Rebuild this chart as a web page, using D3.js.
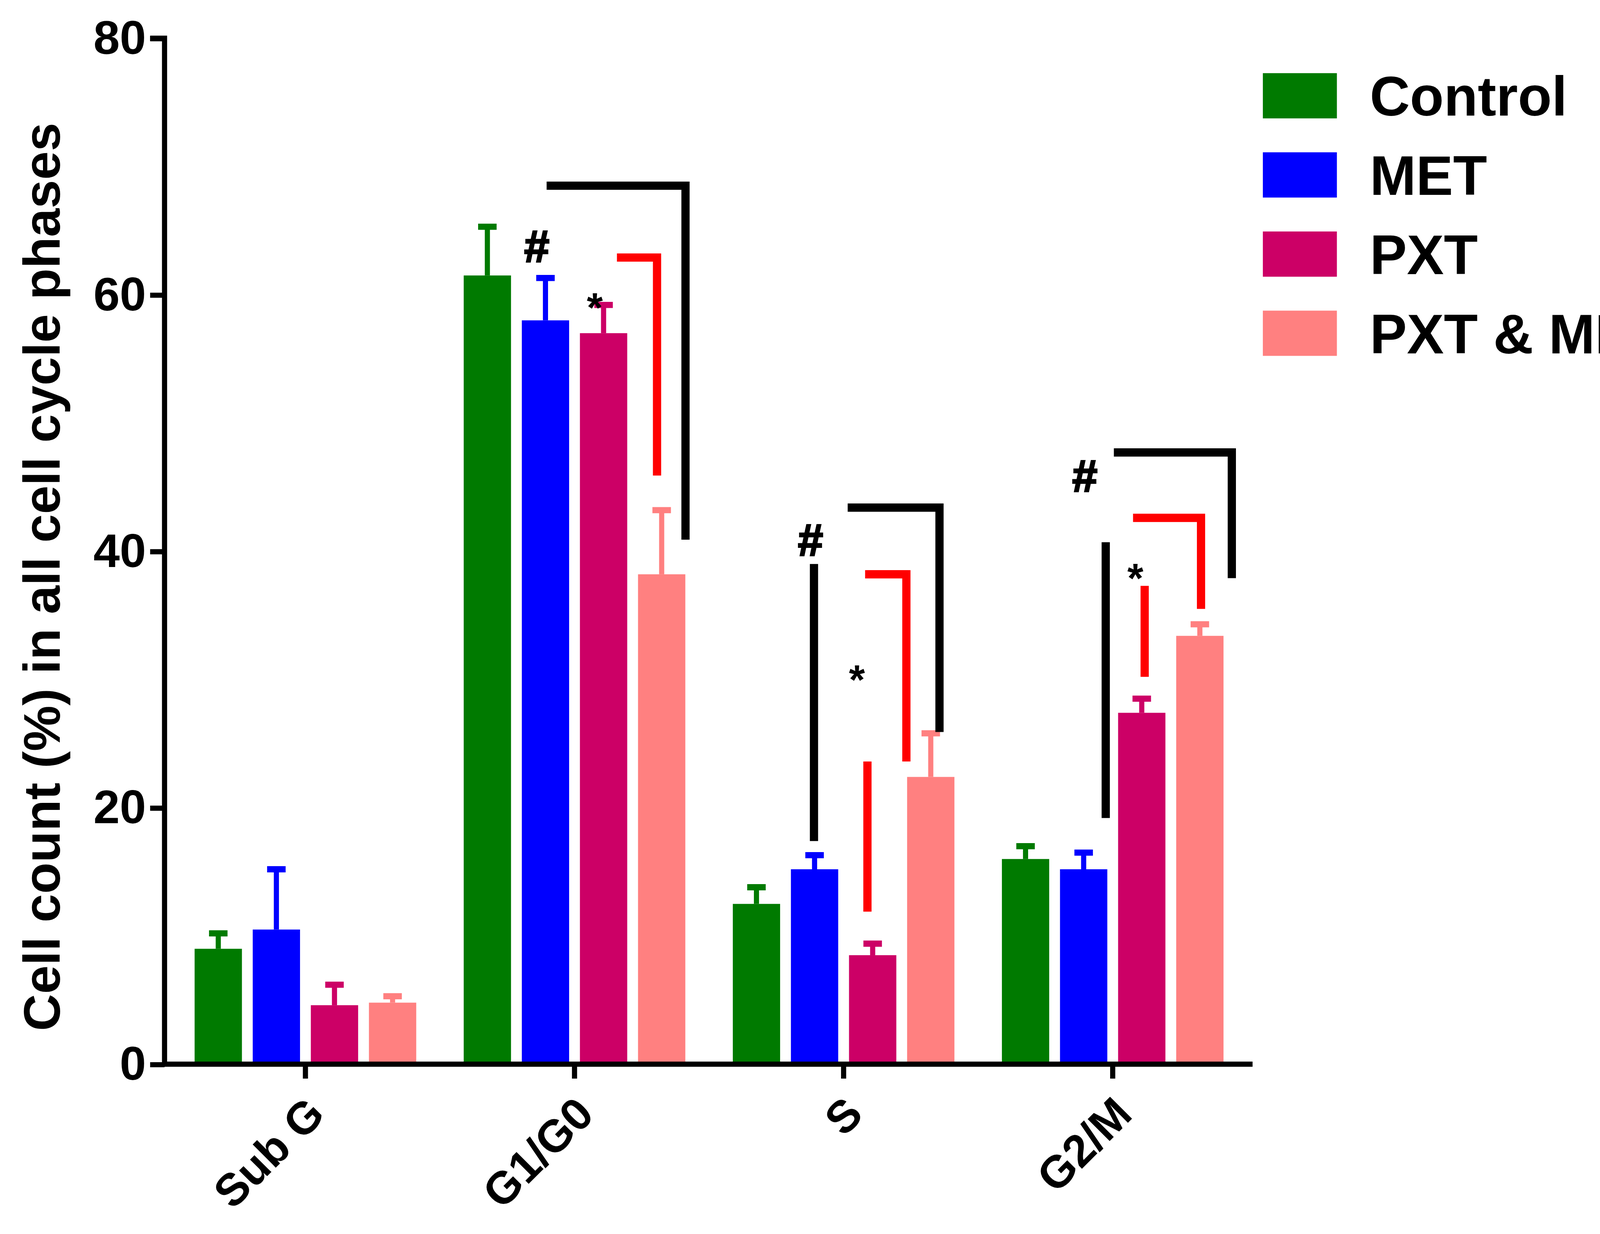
<!DOCTYPE html>
<html>
<head>
<meta charset="utf-8">
<script src="https://cdn.jsdelivr.net/npm/d3@7"></script>
<style>
  body { margin: 0; background: #fff; }
  text { font-family: "Liberation Sans", Arial, sans-serif; font-weight: bold; }
</style>
</head>
<body>
<svg id="chart" width="4128" height="3160" viewBox="0 0 1568 1200"></svg>
<script>
const categories = ['Sub G', 'G1/G0', 'S', 'G2/M'];
const groups = ['Control', 'MET', 'PXT', 'PXT & MET'];
const colors = ['#007a00', '#0000ff', '#cc0066', '#ff8080'];
const means = [
  [9.0, 10.5, 4.6, 4.8],
  [61.5, 58.0, 57.0, 38.2],
  [12.5, 15.2, 8.5, 22.4],
  [16.0, 15.2, 27.4, 33.4]
];
const upper = [
  [10.2, 15.2, 6.2, 5.3],
  [65.3, 61.3, 59.2, 43.2],
  [13.8, 16.3, 9.4, 25.8],
  [17.0, 16.5, 28.5, 34.3]
];
const yTicks = [0, 20, 40, 60, 80];
// brackets: [category, offset from, offset to, top y, bottom y, colour]
const brackets = [
  [1, -0.48, 1.91, 68.5, 40.9, 'black'],
  [1, 0.73, 1.42, 62.9, 45.9, 'red'],
  [2, 0.07, 1.65, 43.4, 25.9, 'black'],
  [2, 0.37, 1.08, 38.2, 23.6, 'red'],
  [3, 0.02, 2.05, 47.7, 37.9, 'black'],
  [3, 0.35, 1.52, 42.6, 35.5, 'red']
];
// single vertical lines: [category, offset, top y, bottom y, colour]
const vlines = [
  [2, -0.51, 39.0, 17.4, 'black'],
  [2, 0.41, 23.6, 11.9, 'red'],
  [3, -0.12, 40.7, 19.2, 'black'],
  [3, 0.55, 37.3, 30.2, 'red']
];
// marks: [category, offset, y, symbol]
const marks = [
  [1, -0.65, 63.8, '#'], [1, 0.35, 59.0, '*'],
  [2, -0.57, 40.9, '#'], [2, 0.23, 30.0, '*'],
  [3, -0.48, 45.9, '#'], [3, 0.39, 37.9, '*']
];

const narrow = '"Liberation Sans Narrow", "Liberation Sans", sans-serif';
const svg = d3.select('#chart');
const y = d3.scaleLinear().domain([0, 80]).range([1035, 37]);
const x = d3.scaleLinear().domain([0, 3]).range([297, 1082]);
const step = 56.5, barW = 46;
const bx = (c, off) => x(c) + off * step;

// bars
categories.forEach((cat, c) => {
  groups.forEach((g, i) => {
    const cx = bx(c, i - 1.5);
    svg.append('line').attr('x1', cx).attr('x2', cx)
      .attr('y1', y(means[c][i])).attr('y2', y(upper[c][i]))
      .attr('stroke', colors[i]).attr('stroke-width', 5);
    svg.append('line').attr('x1', cx - 9).attr('x2', cx + 9)
      .attr('y1', y(upper[c][i])).attr('y2', y(upper[c][i]))
      .attr('stroke', colors[i]).attr('stroke-width', 6);
    svg.append('rect').attr('x', cx - barW / 2).attr('width', barW)
      .attr('y', y(means[c][i])).attr('height', y(0) - y(means[c][i]))
      .attr('fill', colors[i]);
  });
});

// axes
const yAxis = svg.append('g').attr('transform', 'translate(160,0)')
  .call(d3.axisLeft(y).tickValues(yTicks).tickSize(14).tickPadding(4));
yAxis.select('.domain').attr('stroke-width', 5).attr('d', `M-14,${y(80)}H0V${y(0)}`);
yAxis.selectAll('.tick line').attr('stroke-width', 5);
yAxis.selectAll('.tick text').attr('font-size', 46).attr('fill', '#000')
  .attr('font-family', narrow);

svg.append('line').attr('x1', 158).attr('x2', 1218).attr('y1', y(0)).attr('y2', y(0))
  .attr('stroke', '#000').attr('stroke-width', 5);
categories.forEach((cat, c) => {
  svg.append('line').attr('x1', x(c)).attr('x2', x(c)).attr('y1', y(0)).attr('y2', y(0) + 14)
    .attr('stroke', '#000').attr('stroke-width', 5);
  svg.append('text').attr('transform', `translate(${x(c) + 10},${y(0) + 40}) rotate(-45)`)
    .attr('text-anchor', 'end').attr('font-size', 44).attr('dy', '0.35em').text(cat);
});

svg.append('text').attr('transform', `translate(58,${y(38)}) rotate(-90)`)
  .attr('text-anchor', 'middle').attr('font-size', 50).text('Cell count (%) in all cell cycle phases');

// annotations
brackets.forEach(([c, a, b, top, bot, col]) => {
  svg.append('path')
    .attr('d', `M${bx(c, a)},${y(top)}H${bx(c, b)}V${y(bot)}`)
    .attr('fill', 'none').attr('stroke', col).attr('stroke-width', 8);
});
vlines.forEach(([c, o, top, bot, col]) => {
  svg.append('line').attr('x1', bx(c, o)).attr('x2', bx(c, o))
    .attr('y1', y(top)).attr('y2', y(bot)).attr('stroke', col).attr('stroke-width', 8);
});
marks.forEach(([c, o, v, s]) => {
  svg.append('text').attr('x', bx(c, o)).attr('y', y(v)).attr('text-anchor', 'middle')
    .attr('dy', '0.35em').attr('font-size', s === '#' ? 44 : 40)
    .attr('stroke', '#000').attr('stroke-width', s === '#' ? 1.5 : 0).text(s);
});

// legend
groups.forEach((g, i) => {
  const ly = 93 + i * 77;
  svg.append('rect').attr('x', 1228).attr('y', ly - 22).attr('width', 72).attr('height', 44)
    .attr('fill', colors[i]);
  svg.append('text').attr('x', 1332).attr('y', ly).attr('dy', '0.36em')
    .attr('font-family', narrow).attr('font-size', 54).text(g);
});
</script>
</body>
</html>
